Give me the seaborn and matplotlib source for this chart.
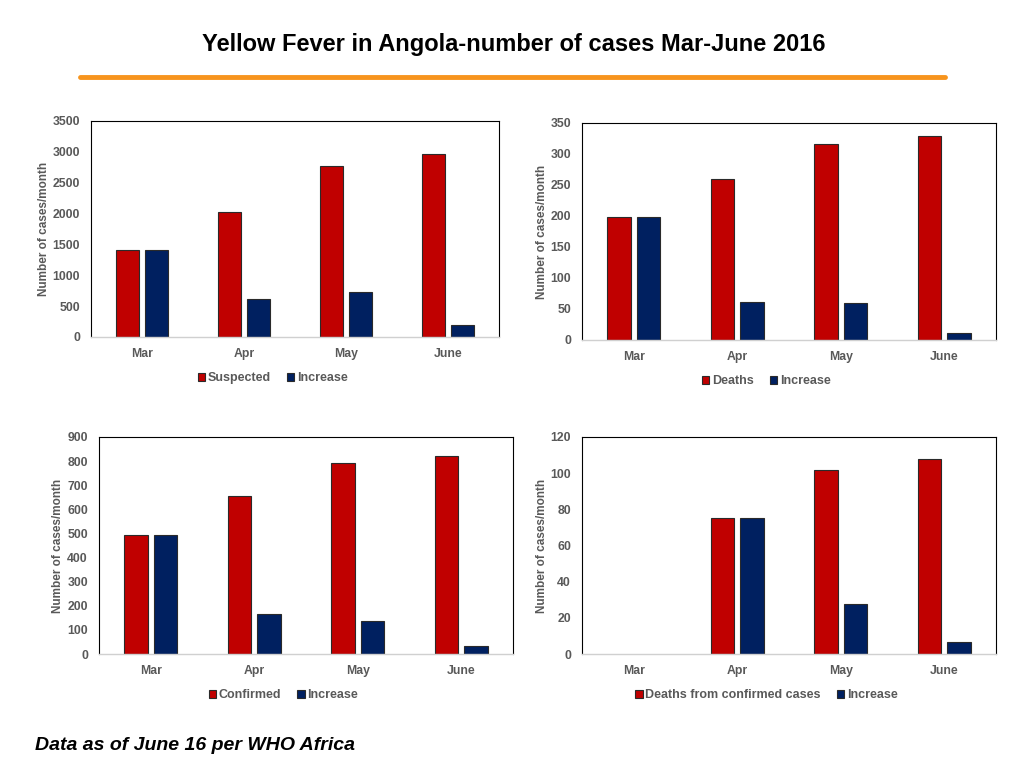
import pandas as pd
import seaborn as sns
import matplotlib.pyplot as plt
from matplotlib.lines import Line2D

months = ['Mar', 'Apr', 'May', 'June']

suspected = [1415, 2028, 2772, 2968]
suspected_inc = [1415, 616, 732, 196]
deaths = [198, 260, 316, 329]
deaths_inc = [198, 61, 59, 12]
confirmed = [494, 655, 792, 821]
confirmed_inc = [494, 166, 137, 32]
deaths_conf = [None, 75, 102, 108]
deaths_conf_inc = [None, 75, 27.5, 6.5]

sns.set_theme(style='white')
plt.rcParams['font.family'] = ['Liberation Sans', 'DejaVu Sans']

grey = '#595959'
red = '#C00000'
navy = '#002060'

fig = plt.figure(figsize=(10.24, 7.68), dpi=100)

panels = [
    ('Suspected', suspected, suspected_inc, 3500, 500, [0.0889, 0.5612, 0.3984, 0.28125]),
    ('Deaths', deaths, deaths_inc, 350, 50, [0.5684, 0.5573, 0.4043, 0.2826]),
    ('Confirmed', confirmed, confirmed_inc, 900, 100, [0.0967, 0.1484, 0.4043, 0.2826]),
    ('Deaths from confirmed cases', deaths_conf, deaths_conf_inc, 120, 20, [0.5684, 0.1484, 0.4043, 0.2826]),
]

for name, main, inc, ymax, step, pos in panels:
    ax = fig.add_axes(pos)
    df = pd.DataFrame({
        'month': months * 2,
        'series': [name] * 4 + ['Increase'] * 4,
        'value': main + inc,
    })
    sns.barplot(data=df, x='month', y='value', hue='series', order=months,
                hue_order=[name, 'Increase'], palette=[red, navy], saturation=1,
                width=0.57, gap=0.21, edgecolor='#2a2a2a', linewidth=0.8,
                errorbar=None, ax=ax)
    ax.set_ylim(0, ymax)
    ax.set_yticks(range(0, ymax + 1, step))
    ax.set_xlabel('')
    ax.set_ylabel('Number of cases/month', color=grey, fontsize=8.5,
                  fontweight='bold', labelpad=2)
    ax.tick_params(axis='both', length=0, colors=grey, labelsize=8.8)
    ax.tick_params(axis='x', pad=8)
    ax.tick_params(axis='y', pad=8)
    for lab in ax.get_xticklabels() + ax.get_yticklabels():
        lab.set_fontweight('bold')
    for s in ['top', 'left', 'right']:
        ax.spines[s].set_color('black')
        ax.spines[s].set_linewidth(0.8)
    ax.spines['bottom'].set_color('#D0D0D0')
    ax.spines['bottom'].set_linewidth(1.0)
    handles, labels = ax.get_legend_handles_labels()
    ax.get_legend().remove()
    leg = ax.legend(handles, labels, loc='center', bbox_to_anchor=(0.445, -0.19),
                    ncol=2, frameon=False, fontsize=9, handlelength=0.6,
                    handleheight=0.6, handletextpad=0.2, columnspacing=1.3)
    for t in leg.get_texts():
        t.set_color(grey)
        t.set_fontweight('bold')

fig.text(0.502, 0.942, 'Yellow Fever in Angola-number of cases Mar-June 2016',
         ha='center', va='center', fontsize=17, fontweight='bold', color='black')
fig.add_artist(Line2D([80 / 1024, 945 / 1024], [1 - 77 / 768, 1 - 77 / 768],
                      color='#F7941D', linewidth=3.5))
fig.text(35 / 1024, 1 - 746 / 768, 'Data as of June 16 per WHO Africa',
         ha='left', va='center', fontsize=14, fontweight='bold', style='italic',
         color='black')

fig.savefig('out.png', dpi=100)
